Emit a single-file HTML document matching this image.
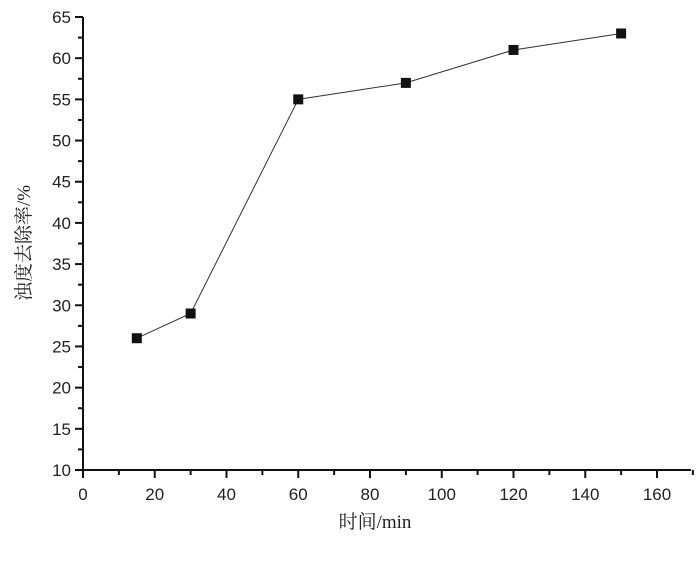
<!DOCTYPE html><html><head><meta charset="utf-8"><style>body{margin:0;background:#fff}svg{display:block}text{font-family:"Liberation Sans",sans-serif;font-size:17px;fill:#222}</style></head><body>
<svg width="700" height="562" xmlns="http://www.w3.org/2000/svg">
<g stroke="#111" stroke-width="2" fill="none">
<line x1="83" y1="17" x2="83" y2="471"/>
<line x1="82" y1="470" x2="691" y2="470"/>
</g>
<g id="yt" stroke="#111" stroke-width="2"></g>
<g id="xt" stroke="#111" stroke-width="2"></g>
<g id="lab"></g>
<polyline id="ln" fill="none" stroke="#333" stroke-width="1"/>
<g id="mk" fill="#111"></g>
<text x="375" y="528" text-anchor="middle" style="font-family:'Liberation Serif','Noto Serif CJK SC',serif;font-size:19px">时间/min</text>
<text transform="translate(30,243) rotate(-90)" text-anchor="middle" style="font-family:'Liberation Serif','Noto Serif CJK SC',serif;font-size:19px">浊度去除率/%</text>
</svg>
<script>
var ns="http://www.w3.org/2000/svg";function X(v){return 83+v*574/160}function Y(v){return 470-(v-10)*453/55}
function el(p,t,a,tx){var e=document.createElementNS(ns,t);for(var k in a)e.setAttribute(k,a[k]);if(tx!==undefined)e.textContent=String(tx);document.getElementById(p).appendChild(e)}
for(var v=10;v<=65;v+=2.5){var y=Y(v),maj=v%5==0;el('yt','line',{x1:maj?75:78,x2:83,y1:y,y2:y});if(maj)el('lab','text',{x:71,y:y+6,'text-anchor':'end'},v)}
for(var v=0;v<=170;v+=10){var x=X(v),maj=v%20==0;el('xt','line',{x1:x,x2:x,y1:470,y2:maj?478:475});if(maj&&v<=160)el('lab','text',{x:x,y:500,'text-anchor':'middle'},v)}
var d=[[15,26],[30,29],[60,55],[90,57],[120,61],[150,63]],p="";d.forEach(function(q){p+=X(q[0])+","+Y(q[1])+" ";el('mk','rect',{x:X(q[0])-5,y:Y(q[1])-5,width:10,height:10})});
document.getElementById('ln').setAttribute('points',p);
</script></body></html>
